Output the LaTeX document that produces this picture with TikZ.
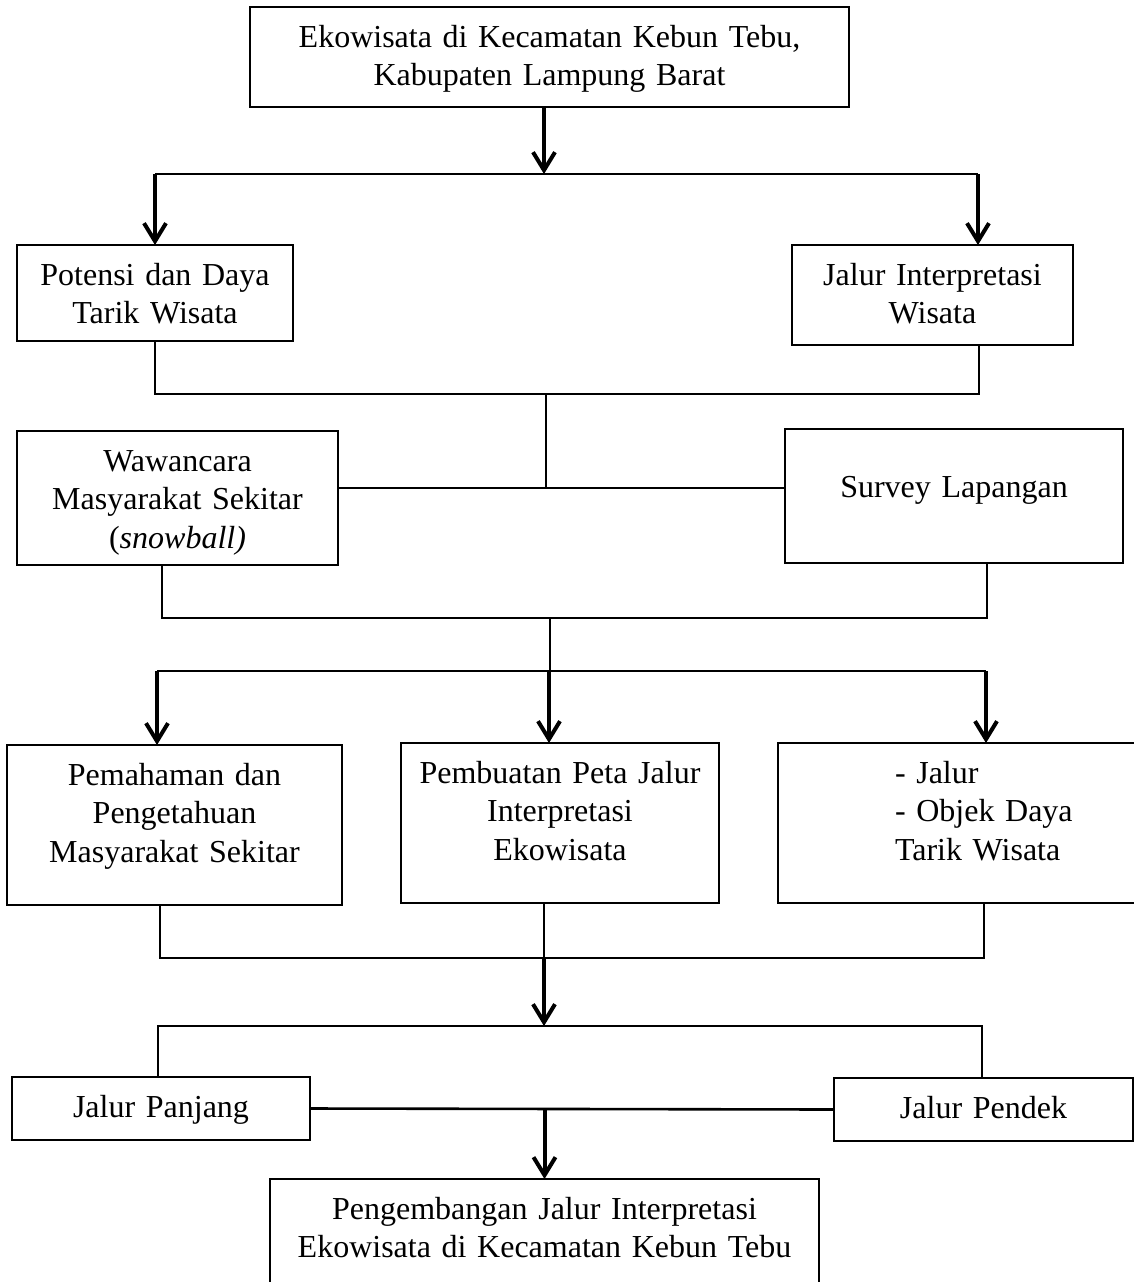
\documentclass[tikz,border=0pt]{standalone}
\usepackage{fontspec}
\setmainfont{Liberation Serif}
\usetikzlibrary{arrows.meta}
\usetikzlibrary{positioning}

\begin{document}
\begin{tikzpicture}[x=0.5pt,y=-0.5pt]
	%\draw[help lines] (0,0) grid (1134,1282);
	\useasboundingbox (0,0) rectangle (1134,1282);

	\tikzstyle{box} = [draw,line width=1pt,anchor=north,outer sep=0pt,inner xsep=0pt,inner ysep=10pt,text height=10pt,align=center,font=\fontsize{16pt}{19.25pt}\selectfont]
	\tikzstyle{conn} = [line width=1.3pt]
	\tikzstyle{arr} = [-{Straight Barb[length=9pt,width=11pt]},line width=2pt]

	% boxes
	\node[box,text width=299.5pt,text depth=20pt] (eko) at (549.5,7) {Ekowisata di Kecamatan Kebun Tebu,\\Kabupaten Lampung Barat};

	\node[box,text width=138pt,text depth=18pt] (potensi) at (155,245) {Potensi dan Daya\\Tarik Wisata};
	\node[box,text width=140.5pt,text depth=20pt] (jalurint) at (932.5,245) {Jalur Interpretasi\\Wisata};

	\node[box,text width=160.5pt,text depth=37pt] (wawan) at (177.5,431) {Wawancara\\Masyarakat Sekitar\\(\textit{snowball)}};
	\node[box,text width=169pt,text height=24pt,text depth=23pt] (survey) at (954,429) {Survey Lapangan};

	\node[box,text width=167.5pt,text depth=50pt] (pemahaman) at (174.5,745) {Pemahaman dan\\Pengetahuan\\Masyarakat Sekitar};
	\node[box,text width=159pt,text depth=50pt] (pembuatan) at (560,743) {Pembuatan Peta Jalur\\Interpretasi\\Ekowisata};
	\node[box,align=left,text width=181pt,text depth=50pt] (list) at (959,743) {\hspace*{58.5pt}- Jalur\\\hspace*{58.5pt}- Objek Daya\\\hspace*{58.5pt}Tarik Wisata};

	\node[box,text width=149pt,text depth=1.5pt] (panjang) at (161,1077) {Jalur Panjang};
	\node[box,text width=149.5pt,text depth=1.5pt] (pendek) at (983.5,1078) {Jalur Pendek};

	\node[box,text width=274.5pt,text depth=30.5pt] (peng) at (544.5,1179) {Pengembangan Jalur Interpretasi\\Ekowisata di Kecamatan Kebun Tebu};

	% first split
	\coordinate (j1) at (544,174);
	\coordinate (j1l) at (155,174);
	\coordinate (j1r) at (978,174);
	\draw[arr] (eko.south -| j1) -- (j1);
	\draw[conn] (j1l) -- (j1r);
	\draw[arr] (j1l) -- (potensi.north);
	\draw[arr] (j1r) -- (j1r |- jalurint.north);

	% join to methods
	\coordinate (j2l) at (155,394);
	\coordinate (j2r) at (979,394);
	\coordinate (j2) at (546,394);
	\coordinate (j3) at (546,488);
	\draw[conn] (potensi.south) -- (j2l) -- (j2r) -- (j2r |- jalurint.south);
	\draw[conn] (j2) -- (j3);
	\draw[conn] (wawan.east |- j3) -- (survey.west |- j3);

	% join to results
	\coordinate (j4l) at (162,618);
	\coordinate (j4r) at (987,618);
	\coordinate (j4) at (550,618);
	\coordinate (j5) at (550,671);
	\draw[conn] (j4l |- wawan.south) -- (j4l) -- (j4r) -- (j4r |- survey.south);
	\draw[conn] (j4) -- (j5);

	\coordinate (j5l) at (157,671);
	\coordinate (j5m) at (549,671);
	\coordinate (j5r) at (986,671);
	\draw[conn] (j5l) -- (j5r);
	\draw[arr] (j5l) -- (j5l |- pemahaman.north);
	\draw[arr] (j5m) -- (j5m |- pembuatan.north);
	\draw[arr] (j5r) -- (j5r |- list.north);

	% join to routes
	\coordinate (j6l) at (160,958);
	\coordinate (j6) at (544,958);
	\coordinate (j6r) at (984,958);
	\draw[conn] (j6l |- pemahaman.south) -- (j6l) -- (j6r) -- (j6r |- list.south);
	\draw[conn] (j6 |- pembuatan.south) -- (j6);

	\coordinate (j7) at (544,1026);
	\coordinate (j7l) at (158,1026);
	\coordinate (j7r) at (982,1026);
	\draw[arr] (j6) -- (j7);
	\draw[conn] (j7l |- panjang.north) -- (j7l) -- (j7r) -- (j7r |- pendek.north);

	\draw[conn] (panjang.east) -- (pendek.west);
	\coordinate (j8) at (peng.north |- panjang.east);
	\draw[arr] (j8) -- (peng.north);

\end{tikzpicture}
\end{document}
